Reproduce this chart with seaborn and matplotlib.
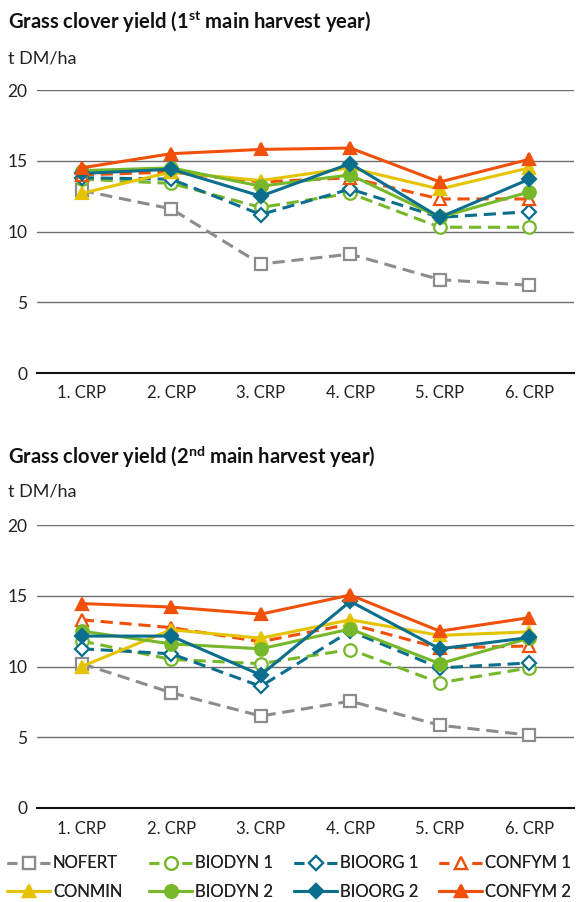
import numpy as np
import pandas as pd
import matplotlib
matplotlib.use("Agg")
import matplotlib.pyplot as plt
from matplotlib.lines import Line2D
import seaborn as sns

sns.set_style("white")
plt.rcParams['font.family'] = ['Lato', 'DejaVu Sans']
plt.rcParams['mathtext.fontset'] = 'custom'
plt.rcParams['mathtext.bf'] = 'Lato:bold'
plt.rcParams['mathtext.rm'] = 'Lato'

# data
crops = ["1. CRP", "2. CRP", "3. CRP", "4. CRP", "5. CRP", "6. CRP"]
treatments = ["NOFERT", "BIODYN 1", "BIOORG 1", "CONFYM 1",
              "CONMIN", "BIODYN 2", "BIOORG 2", "CONFYM 2"]

# 1st main harvest year
y1_nofert = [12.9, 11.6, 7.7, 8.4, 6.6, 6.2]
y1_biodyn1 = [13.7, 13.4, 11.7, 12.7, 10.3, 10.3]
y1_bioorg1 = [13.8, 13.7, 11.2, 13.0, 11.0, 11.4]
y1_confym1 = [14.0, 14.2, 13.5, 13.8, 12.3, 12.3]
y1_conmin = [12.7, 14.2, 13.6, 14.5, 13.0, 14.5]
y1_biodyn2 = [14.3, 14.5, 13.2, 14.0, 11.0, 12.8]
y1_bioorg2 = [14.1, 14.4, 12.5, 14.8, 11.0, 13.7]
y1_confym2 = [14.5, 15.5, 15.8, 15.9, 13.5, 15.1]

# 2nd main harvest year
y2_nofert = [10.2, 8.15, 6.5, 7.55, 5.85, 5.15]
y2_biodyn1 = [11.8, 10.5, 10.2, 11.2, 8.85, 9.9]
y2_bioorg1 = [11.25, 10.9, 8.6, 12.5, 9.9, 10.25]
y2_confym1 = [13.3, 12.75, 11.75, 13.0, 11.3, 11.45]
y2_conmin = [10.0, 12.6, 12.0, 13.3, 12.2, 12.45]
y2_biodyn2 = [12.5, 11.6, 11.25, 12.65, 10.2, 12.0]
y2_bioorg2 = [12.15, 12.15, 9.4, 14.6, 11.25, 12.05]
y2_confym2 = [14.45, 14.2, 13.7, 15.05, 12.5, 13.45]

year1 = [y1_nofert, y1_biodyn1, y1_bioorg1, y1_confym1,
         y1_conmin, y1_biodyn2, y1_bioorg2, y1_confym2]
year2 = [y2_nofert, y2_biodyn1, y2_bioorg1, y2_confym1,
         y2_conmin, y2_biodyn2, y2_bioorg2, y2_confym2]

GRAY = "#8c8c8c"
GREEN = "#76b82a"
BLUE = "#0a6e8c"
ORANGE = "#f0500a"
YELLOW = "#e6c300"

# color, marker, filled, dashed
styles = {
    "NOFERT": (GRAY, "s", False, True),
    "BIODYN 1": (GREEN, "o", False, True),
    "BIOORG 1": (BLUE, "D", False, True),
    "CONFYM 1": (ORANGE, "^", False, True),
    "CONMIN": (YELLOW, "^", True, False),
    "BIODYN 2": (GREEN, "o", True, False),
    "BIOORG 2": (BLUE, "D", True, False),
    "CONFYM 2": (ORANGE, "^", True, False),
}
msizes = {"s": 8.5, "o": 9, "D": 7.5, "^": 9}

fig = plt.figure(figsize=(5.76, 9.02), dpi=100)
ax1 = fig.add_axes([37 / 576, 1 - 373 / 902, 537 / 576, 283 / 902])
ax2 = fig.add_axes([37 / 576, 1 - 808 / 902, 537 / 576, 283 / 902])


def draw(ax, data):
    df = pd.DataFrame({"crop": np.tile(crops, len(treatments)),
                       "treatment": np.repeat(treatments, len(crops)),
                       "yield": np.concatenate(data)})
    for t in treatments:
        color, mk, filled, dashed = styles[t]
        sub = df[df["treatment"] == t]
        sns.lineplot(data=sub, x="crop", y="yield", ax=ax, color=color,
                     marker=mk, markersize=msizes[mk],
                     markerfacecolor=color if filled else "white",
                     markeredgecolor=color, markeredgewidth=1.6,
                     linewidth=2.2, linestyle=(0, (4, 2.2)) if dashed else "-",
                     legend=False)
    ax.set_xlim(-0.5, 5.5)
    ax.set_ylim(0, 20)
    ax.set_yticks([0, 5, 10, 15, 20])
    ax.grid(axis="y", color="#6e6e6e", linewidth=1.0)
    ax.set_axisbelow(True)
    for s in ["left", "right", "top"]:
        ax.spines[s].set_visible(False)
    ax.spines["bottom"].set_color("#111111")
    ax.spines["bottom"].set_linewidth(1.5)
    ax.set_xlabel("")
    ax.set_ylabel("")
    ax.tick_params(axis="y", length=0, pad=7, labelsize=12.5, labelcolor="#222222")
    ax.tick_params(axis="x", which="major", length=0, pad=9, labelsize=12,
                   labelcolor="#222222")
    ax.set_xticks(np.arange(-0.5, 6, 1), minor=True)
    ax.tick_params(axis="x", which="minor", length=4, width=1.2,
                   color="#111111", direction="out")


draw(ax1, year1)
draw(ax2, year2)

fig.text(8 / 576, 1 - 22 / 902,
         r"Grass clover yield (1$^{\mathbf{st}}$ main harvest year)",
         fontsize=14.5, fontweight="bold", va="center", ha="left", color="#111111")
fig.text(8 / 576, 1 - 58 / 902, "t DM/ha", fontsize=13, va="center",
         ha="left", color="#222222")
fig.text(8 / 576, 1 - 457 / 902,
         r"Grass clover yield (2$^{\mathbf{nd}}$ main harvest year)",
         fontsize=14.5, fontweight="bold", va="center", ha="left", color="#111111")
fig.text(8 / 576, 1 - 492 / 902, "t DM/ha", fontsize=13, va="center",
         ha="left", color="#222222")

# legend: one small legend per column so columns line up like the original
col_x = [7, 149, 294, 439]
for c in range(4):
    names = [treatments[c], treatments[c + 4]]
    handles = []
    for t in names:
        color, mk, filled, dashed = styles[t]
        handles.append(Line2D([], [], color=color, marker=mk,
                              markersize=msizes[mk],
                              markerfacecolor=color if filled else "white",
                              markeredgecolor=color, markeredgewidth=1.6,
                              linewidth=2.2,
                              linestyle=(0, (3.2, 7.6)) if dashed else "-"))
    leg = fig.legend(handles, names, loc="lower left",
                     bbox_to_anchor=(col_x[c] / 576, 2 / 902), frameon=False,
                     fontsize=12, handlelength=2.6, handletextpad=0.15,
                     labelspacing=0.75, borderpad=0, borderaxespad=0,
                     labelcolor="#222222")
    fig.add_artist(leg)

fig.savefig("out.png", dpi=100)
